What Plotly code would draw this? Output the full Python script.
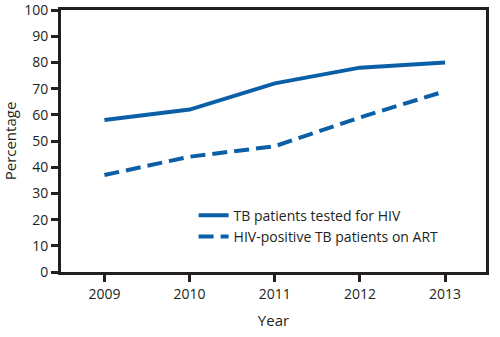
import plotly.graph_objects as go

years = [2009, 2010, 2011, 2012, 2013]
tested = [58, 62, 72, 78, 80]
on_art = [37, 44, 48, 59, 69]
y_ticks = list(range(0, 101, 10))

color = "#0a5fa6"
dark = "#231f20"
font = "Open Sans"

fig = go.Figure()
fig.add_trace(go.Scatter(x=years, y=tested, mode="lines", name="TB patients tested for HIV",
                         line=dict(color=color, width=4)))
fig.add_trace(go.Scatter(x=years, y=on_art, mode="lines", name="HIV-positive TB patients on ART",
                         line=dict(color=color, width=4, dash="15px,7px")))

fig.update_layout(
    width=500, height=337,
    margin=dict(l=61, r=14, t=10, b=65),
    plot_bgcolor="white", paper_bgcolor="white",
    font=dict(family=font, size=14, color=dark),
    showlegend=True,
    legend=dict(x=0.312, y=0.175, xanchor="left", yanchor="middle",
                bgcolor="rgba(0,0,0,0)", font=dict(size=14, color=dark),
                tracegroupgap=0),
)
fig.update_xaxes(range=[2008.49, 2013.48], tickvals=years, ticktext=[str(y) for y in years],
                 automargin=False, ticklabeloverflow="allow",
                 showgrid=False, zeroline=False, showline=True, linecolor=dark, linewidth=3,
                 mirror=True, ticks="outside", ticklen=7, tickwidth=3, tickcolor=dark,
                 title=dict(text="Year", font=dict(size=15), standoff=14))
fig.update_yaxes(range=[0, 100], tickvals=y_ticks, automargin=False, ticklabeloverflow="allow",
                 showgrid=False, zeroline=False, showline=True, linecolor=dark, linewidth=3,
                 mirror=True, ticks="outside", ticklen=7, tickwidth=3, tickcolor=dark,
                 title=dict(text="Percentage", font=dict(size=15), standoff=11))

fig.write_html("out.html")
